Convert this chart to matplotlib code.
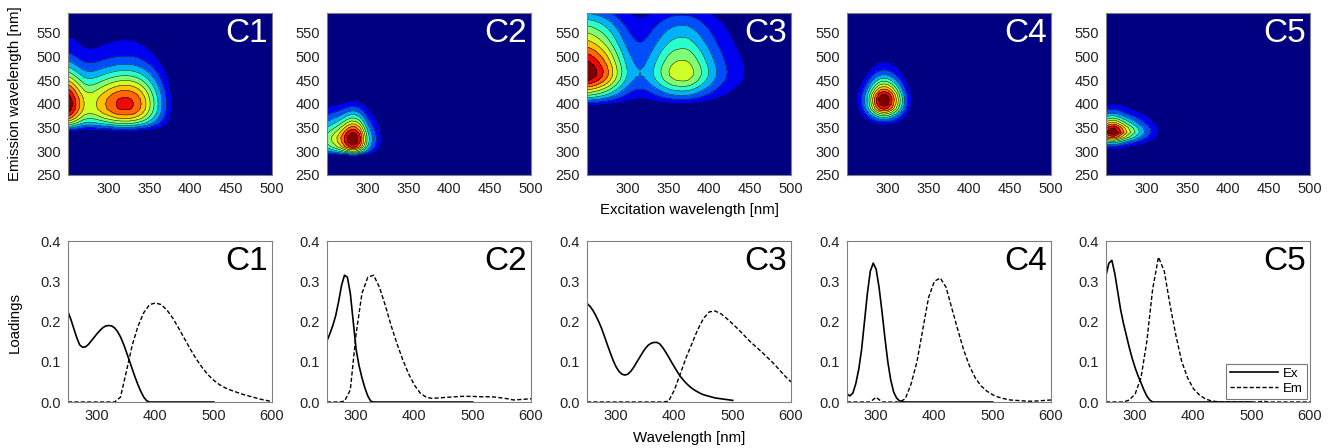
import numpy as np
import matplotlib
matplotlib.use("Agg")
import matplotlib.pyplot as plt

plt.rcParams['font.family'] = ['Liberation Sans', 'DejaVu Sans']

# wavelength grids [nm]
ex_nm = np.arange(250, 501, 5)
em_nm = np.arange(250, 601, 10)

names = ['C1', 'C2', 'C3', 'C4', 'C5']

# excitation loadings (250-500 nm, 5 nm step)
ex_c1 = [.224, .205, .182, .160, .142, .136, .137, .143, .152, .161,
         .170, .178, .185, .189, .190, .189, .184, .175, .162, .145,
         .125, .104, .083, .062, .043, .026, .012, .003, 0, 0,
         0, 0, 0, 0, 0, 0, 0, 0, 0, 0,
         0, 0, 0, 0, 0, 0, 0, 0, 0, 0,
         0]
ex_c2 = [.152, .170, .190, .215, .250, .290, .315, .310, .270, .200,
         .130, .090, .060, .035, .015, .002, 0, 0, 0, 0,
         0, 0, 0, 0, 0, 0, 0, 0, 0, 0,
         0, 0, 0, 0, 0, 0, 0, 0, 0, 0,
         0, 0, 0, 0, 0, 0, 0, 0, 0, 0,
         0]
ex_c3 = [.245, .238, .228, .215, .200, .183, .163, .142, .122, .103,
         .087, .076, .069, .067, .069, .076, .086, .098, .110, .122,
         .133, .141, .146, .148, .148, .144, .135, .124, .112, .099,
         .087, .075, .064, .055, .047, .040, .034, .029, .025, .021,
         .018, .016, .014, .012, .010, .009, .008, .007, .006, .005,
         .004]
ex_c4 = [.020, .015, .022, .045, .080, .130, .200, .270, .325, .345,
         .330, .285, .225, .160, .100, .055, .025, .010, .003, .001,
         0, 0, 0, 0, 0, 0, 0, 0, 0, 0,
         0, 0, 0, 0, 0, 0, 0, 0, 0, 0,
         0, 0, 0, 0, 0, 0, 0, 0, 0, 0,
         0]
ex_c5 = [.315, .345, .352, .320, .275, .230, .195, .165, .135, .108,
         .085, .065, .048, .030, .015, .005, 0, 0, 0, 0,
         0, 0, 0, 0, 0, 0, 0, 0, 0, 0,
         0, 0, 0, 0, 0, 0, 0, 0, 0, 0,
         0, 0, 0, 0, 0, 0, 0, 0, 0, 0,
         0]

# emission loadings (250-600 nm, 10 nm step)
em_c1 = [0, 0, 0, 0, 0, 0, 0, 0, 0,
         .012, .075, .140, .188, .222, .242, .246, .242, .228, .208,
         .183, .157, .131, .107, .086, .068, .054, .043, .035, .029,
         .024, .019, .015, .011, .007, .004, .001]
em_c2 = [0, 0, 0, .002, .030, .170, .270, .310, .315, .285,
         .240, .190, .145, .105, .070, .042, .022, .012, .009, .010,
         .011, .012, .013, .014, .014, .014, .013, .013, .013, .012,
         .010, .008, .005, .006, .007, .008]
em_c3 = [0, 0, 0, 0, 0, 0, 0, 0, 0, 0, 0, 0, 0, 0,
         .002, .030, .070, .110, .145, .180, .208, .224, .226, .219,
         .207, .194, .180, .165, .150, .137, .124, .110, .096, .080,
         .064, .050]
em_c4 = [0, 0, 0, 0, 0, .012, 0, 0, 0, 0,
         .008, .045, .100, .180, .260, .300, .308, .285, .232, .180,
         .130, .090, .060, .040, .027, .018, .012, .008, .005, .004,
         .003, .002, .002, .003, .004, .005]
em_c5 = [0, 0, 0, 0, .005, .020, .060, .150, .280, .360,
         .325, .240, .165, .100, .060, .033, .018, .008, .003, .001,
         0, 0, 0, 0, 0, 0, 0, .002, 0, 0,
         0, 0, 0, 0, 0, 0]

ex_all = [ex_c1, ex_c2, ex_c3, ex_c4, ex_c5]
em_all = [em_c1, em_c2, em_c3, em_c4, em_c5]

fig = plt.figure(figsize=(13.34, 4.48), dpi=100)
W, H = 1334.0, 448.0
lefts = [68, 327, 587, 847, 1106]
aw = 204

nb = 11
band_colors = plt.cm.jet(np.linspace(0, 1, nb))
spine_c = '#808080'


def style(ax):
    for s in ax.spines.values():
        s.set_color(spine_c)
        s.set_linewidth(0.8)
    ax.tick_params(length=0, pad=5, labelsize=10.5, colors='#222222')


for i in range(5):
    ex = np.array(ex_all[i])
    em = np.array(em_all[i])

    # top row: EEM contour
    ax = fig.add_axes([lefts[i] / W, 1 - 175 / H, aw / W, 162 / H])
    Z = np.outer(em, ex)
    levels = np.linspace(0, Z.max() * 1.0001, nb + 1)
    ax.contourf(ex_nm, em_nm, Z, levels=levels, colors=band_colors)
    ax.contour(ex_nm, em_nm, Z, levels=levels[1:-1], colors='k', linewidths=0.35)
    ax.set_xlim(250, 500)
    ax.set_ylim(250, 592)
    ax.set_xticks([300, 350, 400, 450, 500])
    ax.set_yticks([250, 300, 350, 400, 450, 500, 550])
    ax.text(0.98, 0.97, names[i], transform=ax.transAxes, ha='right', va='top',
            color='white', fontsize=24)
    style(ax)

    # bottom row: loadings
    ax2 = fig.add_axes([lefts[i] / W, 1 - 402 / H, aw / W, 161 / H])
    ax2.plot(ex_nm, ex, color='k', lw=1.2, label='Ex')
    ax2.plot(em_nm, em, color='k', lw=1.0, ls=(0, (3, 1.6)), label='Em')
    ax2.set_xlim(250, 600)
    ax2.set_ylim(0, 0.4)
    ax2.set_xticks([300, 400, 500, 600])
    ax2.set_yticks([0, 0.1, 0.2, 0.3, 0.4])
    ax2.set_yticklabels(['0.0', '0.1', '0.2', '0.3', '0.4'])
    ax2.text(0.98, 0.97, names[i], transform=ax2.transAxes, ha='right', va='top',
             color='black', fontsize=24)
    style(ax2)
    if i == 4:
        leg = ax2.legend(loc='lower right', fontsize=9.5, fancybox=False,
                         handlelength=3.6, borderaxespad=0.25, labelspacing=0.2,
                         borderpad=0.3, handletextpad=0.4)
        leg.get_frame().set_edgecolor('#555555')
        leg.get_frame().set_linewidth(0.8)

fig.text(15 / W, 1 - 94 / H, 'Emission wavelength [nm]', rotation=90,
         ha='center', va='center', fontsize=10.8)
fig.text(689 / W, 1 - 210 / H, 'Excitation wavelength [nm]', ha='center',
         va='center', fontsize=10.8)
fig.text(15 / W, 1 - 322 / H, 'Loadings', rotation=90, ha='center',
         va='center', fontsize=10.8)
fig.text(689 / W, 1 - 438 / H, 'Wavelength [nm]', ha='center', va='center',
         fontsize=10.8)

fig.savefig('out.png', dpi=100)
